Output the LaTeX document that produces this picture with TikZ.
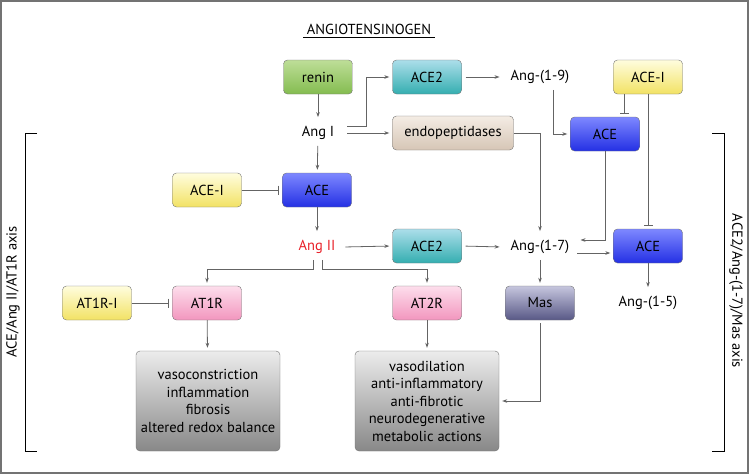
\documentclass[tikz,border=0pt]{standalone}
\usepackage{fontspec}
\setmainfont{PT Sans}
\usetikzlibrary{arrows.meta}

\definecolor{linegray}{RGB}{100,100,100}
\definecolor{angred}{RGB}{232,32,40}

\tikzset{
  box/.style={draw=black!55, rounded corners=4pt, minimum width=69pt, minimum height=34pt, inner sep=2pt},
  lbl/.style={inner xsep=8pt, inner ysep=6pt},
  reninbox/.style={box, top color={rgb,255:red,190;green,222;blue,152}, bottom color={rgb,255:red,132;green,188;blue,80}},
  acetwobox/.style={box, top color={rgb,255:red,172;green,222;blue,234}, bottom color={rgb,255:red,52;green,174;blue,176}},
  endobox/.style={box, minimum width=121pt, top color={rgb,255:red,244;green,236;blue,228}, bottom color={rgb,255:red,214;green,198;blue,182}},
  acebox/.style={box, top color={rgb,255:red,126;green,136;blue,255}, bottom color={rgb,255:red,36;green,48;blue,228}},
  inhibbox/.style={box, top color={rgb,255:red,255;green,253;blue,222}, bottom color={rgb,255:red,242;green,226;blue,100}},
  receptorbox/.style={box, top color={rgb,255:red,253;green,222;blue,236}, bottom color={rgb,255:red,242;green,150;blue,190}},
  masbox/.style={box, top color={rgb,255:red,198;green,198;blue,222}, bottom color={rgb,255:red,88;green,88;blue,134}},
  effectbox/.style={box, minimum width=144pt, minimum height=100pt, align=center, top color={rgb,255:red,236;green,236;blue,236}, bottom color={rgb,255:red,136;green,136;blue,136}},
  con/.style={draw=linegray, line width=0.8pt, -{Stealth[length=5pt,width=3.6pt]}, shorten >=3pt},
  inh/.style={draw=linegray, line width=0.8pt, -{Bar[width=9pt,line width=1.3pt]}, shorten >=3pt},
}

\begin{document}
\begin{tikzpicture}[x=1pt,y=-1pt,font=\fontsize{14.5}{17.5}\selectfont]
\useasboundingbox (0,0) rectangle (749,474);
\draw[black!55,line width=2pt] (1,1) rectangle (748,473);

\node (title) at (369,29) {ANGIOTENSINOGEN};
\draw[line width=0.6pt] (title.south west) -- (title.south east);

\node[reninbox] (renin) at (318,77) {renin};
\node[acetwobox] (acetwoA) at (427,77) {ACE2};
\node[lbl] (angNine) at (540,77) {Ang-(1-9)};
\node[inhibbox] (aceiA) at (648,77) {ACE-I};
\node[lbl] (angI) at (318,133) {Ang I};
\node[endobox] (endo) at (453,133) {endopeptidases};
\node[acebox] (aceA) at (605,134) {ACE};
\node[inhibbox] (aceiB) at (207,190) {ACE-I};
\node[acebox] (aceB) at (317,190) {ACE};
\node[lbl,text=angred] (angII) at (317,247) {Ang II};
\node[acetwobox] (acetwoB) at (427,246) {ACE2};
\node[lbl] (angSeven) at (540,247) {Ang-(1-7)};
\node[acebox] (aceC) at (648,246) {ACE};
\node[inhibbox] (atri) at (97,303) {AT1R-I};
\node[receptorbox] (atone) at (207,303) {AT1R};
\node[receptorbox] (attwo) at (427,303) {AT2R};
\node[masbox] (mas) at (540,303) {Mas};
\node[lbl] (angFive) at (648,303) {Ang-(1-5)};
\node[effectbox] (effA) at (208,401) {vasoconstriction\\inflammation\\fibrosis\\altered redox balance};
\node[effectbox] (effB) at (427,401) {vasodilation\\anti-inflammatory\\anti-fibrotic\\neurodegenerative\\metabolic actions};

\draw[con] (renin) -- (angI);
\draw[con] ([xshift=5pt,yshift=7pt]angI.east) -- ++(19,0) |- (acetwoA.west);
\draw[con] ([xshift=5pt]angI.east) -- (endo.west);
\draw[con] (angI) -- (aceB);
\draw[con, shorten <=4pt] (acetwoA.east) -- (angNine.west);
\draw[con] ([xshift=13pt]angNine.south) |- (aceA.west);
\draw[inh] ([xshift=-24pt]aceiA.south) -- ([xshift=-24pt]aceiA.south |- aceA.north);
\draw[inh] (aceiA.south) -- (aceC.north);
\draw[con] (endo.east) -| (angSeven.north);
\draw[con] (aceA.south) |- ([yshift=7pt]angSeven.east);
\draw[con] ([yshift=-6pt]angSeven.east) -- ([yshift=-6pt]angSeven.east -| aceC.west);
\draw[con] (aceC) -- (angFive);
\draw[con] (angSeven) -- (mas);
\draw[con] (aceB) -- (angII);
\draw[inh] (aceiB) -- (aceB);
\draw[con, shorten <=2pt] (angII.east) -- (acetwoB.west);
\draw[con, shorten <=4pt] (acetwoB.east) -- (angSeven.west);
\draw[con] ([xshift=-4pt]angII.south) -- ++(0,10) -| (atone.north);
\draw[con] ([xshift=5pt]angII.south) -- ++(0,10) -| (attwo.north);
\draw[inh] (atri) -- (atone);
\draw[con] (atone) -- (effA);
\draw[con] (attwo) -- (effB);
\draw[con, shorten <=3pt] (mas.south) |- (effB.east);

\draw[line width=1pt] (37,133) -- (25,133) -- (25,451) -- (37,451);
\draw[line width=1pt] (712,133) -- (724,133) -- (724,451) -- (712,451);
\node[rotate=90] (axisL) at (13,292) {ACE/Ang II/AT1R axis};
\node[rotate=-90] (axisR) at (736,291) {ACE2/Ang-(1-7)/Mas axis};
\end{tikzpicture}
\end{document}
